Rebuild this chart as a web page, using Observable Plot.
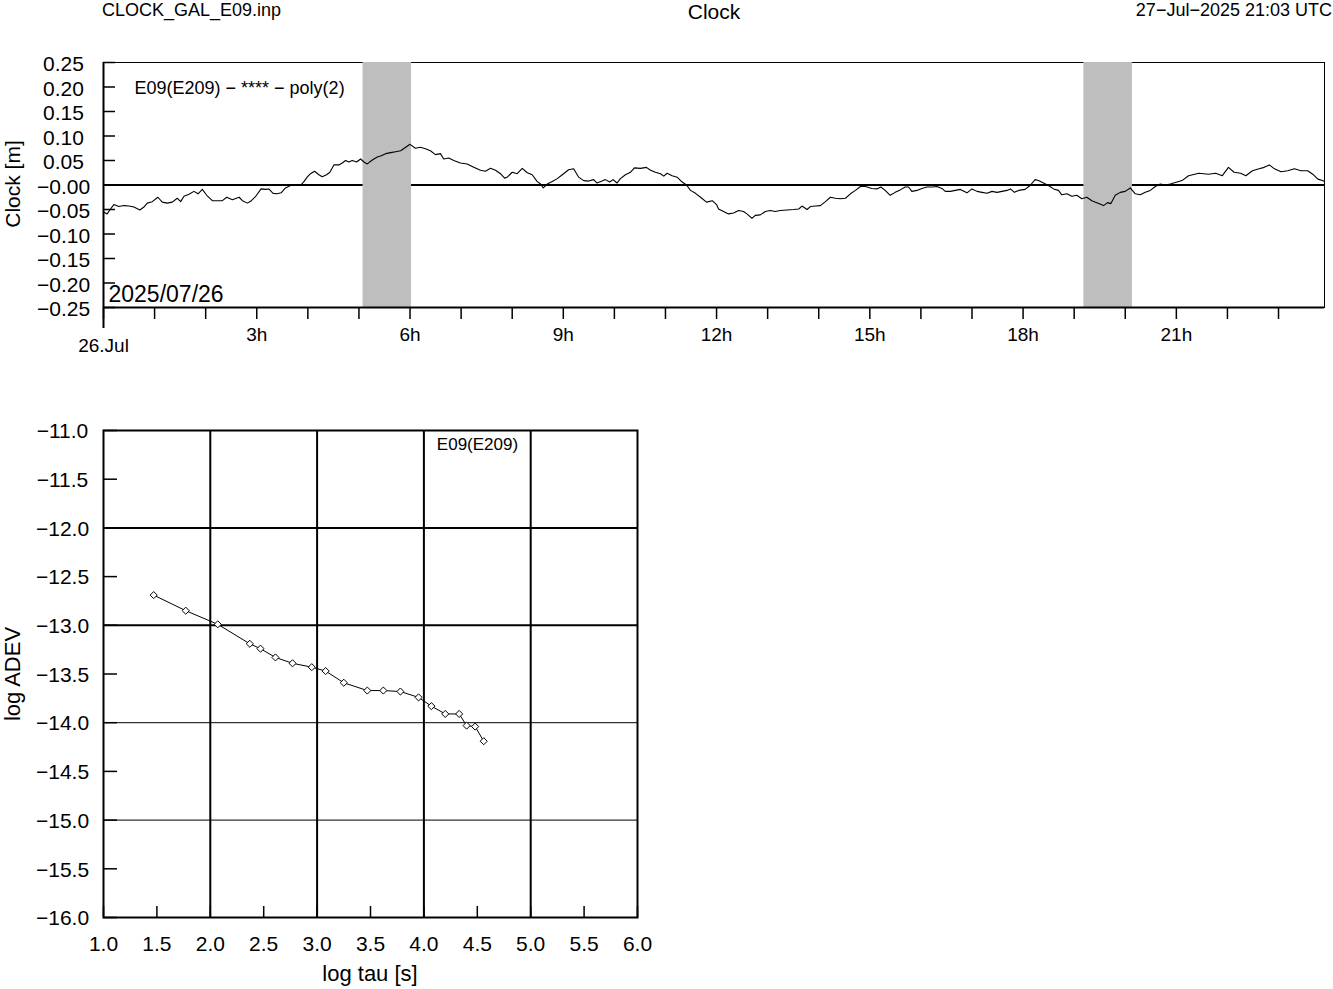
<!DOCTYPE html>
<html>
<head>
<meta charset="utf-8">
<script src="https://cdn.jsdelivr.net/npm/d3@7"></script>
<script src="https://cdn.jsdelivr.net/npm/@observablehq/plot@0.6"></script>
<style>
  body { margin: 0; background: #fff; font-family: "Liberation Sans", Arial, sans-serif; }
  #page { position: relative; width: 1333px; height: 989px; overflow: hidden; background: #fff; }
  .t { position: absolute; white-space: nowrap; color: #000; line-height: 1.15; }
  .rot { transform: translate(-50%, -50%) rotate(-90deg); }
  svg { position: absolute; left: 0; }
</style>
</head>
<body>
<div id="page"></div>
<script>
// ---------- texts ----------
const headerLeft = "CLOCK_GAL_E09.inp";
const headerTitle = "Clock";
const headerRight = "27\u2212Jul\u22122025 21:03 UTC";
const clockLegend = "E09(E209) \u2212 **** \u2212 poly(2)";
const clockDateLabel = "2025/07/26";
const clockYLabel = "Clock [m]";
const adevLegend = "E09(E209)";
const adevXLabel = "log tau [s]";
const adevYLabel = "log ADEV";

// ---------- clock series (hours since 2025-07-26 00:00 UTC, metres) ----------
const clockHours = [
  0.000,0.072,0.137,0.203,0.301,0.399,0.497,0.595,0.712,0.791,0.856,0.954,1.065,1.150,1.248,1.346,1.444,1.510,1.575,1.673,1.771,1.850,1.935,2.020,2.131,2.229,2.327,2.412,2.523,2.654,2.719,2.817,2.895,2.980,
  3.085,3.170,3.235,3.320,3.399,3.477,3.562,3.660,3.758,3.856,3.922,3.987,4.052,4.131,4.216,4.281,4.366,4.431,4.510,4.608,4.673,4.739,4.804,4.869,4.954,5.033,5.098,5.163,5.261,5.359,5.425,5.523,5.621,5.719,5.817,5.915,6.000,
  6.105,6.203,6.301,6.399,6.497,6.595,6.660,6.758,6.856,6.987,7.118,7.248,7.379,7.477,7.575,7.673,7.771,7.850,7.902,8.000,8.098,8.196,8.294,8.392,8.490,8.556,8.608,8.686,8.784,8.882,8.980,
  9.105,9.203,9.301,9.399,9.497,9.595,9.660,9.758,9.824,9.908,9.974,10.052,10.118,10.216,10.314,10.392,10.510,10.627,10.706,10.804,10.902,10.967,11.033,11.131,11.229,11.327,11.412,11.490,11.588,11.686,11.804,11.915,12.000,
  12.039,12.137,12.235,12.333,12.431,12.529,12.595,12.693,12.758,12.856,12.954,13.052,13.150,13.248,13.379,13.510,13.608,13.673,13.771,13.837,13.935,14.033,14.131,14.229,14.327,14.425,14.523,14.621,14.719,14.817,14.915,
  15.039,15.137,15.216,15.301,15.399,15.497,15.595,15.693,15.758,15.824,15.922,16.020,16.118,16.216,16.314,16.412,16.477,16.575,16.673,16.771,16.902,17.000,17.098,17.196,17.294,17.392,17.490,17.588,17.686,17.752,17.830,17.915,
  18.039,18.137,18.235,18.301,18.399,18.497,18.595,18.693,18.758,18.856,18.954,19.052,19.150,19.248,19.346,19.444,19.575,19.654,19.719,19.804,19.902,20.000,20.098,20.196,20.294,20.392,20.490,20.588,20.686,20.784,20.882,20.980,
  21.11,21.24,21.44,21.63,21.77,21.90,22.02,22.13,22.26,22.36,22.49,22.62,22.72,22.82,22.92,23.05,23.18,23.31,23.44,23.57,23.67,23.77,23.86,23.90
];
const clockValues = [
  -0.055,-0.059,-0.049,-0.040,-0.044,-0.042,-0.043,-0.045,-0.051,-0.045,-0.037,-0.034,-0.025,-0.035,-0.037,-0.035,-0.027,-0.034,-0.023,-0.019,-0.013,-0.018,-0.009,-0.021,-0.032,-0.032,-0.032,-0.025,-0.030,-0.025,-0.032,-0.037,-0.032,-0.023,
  -0.008,-0.009,-0.008,-0.017,-0.018,-0.016,-0.006,-0.001,0.000,-0.001,0.007,0.016,0.023,0.028,0.021,0.017,0.021,0.026,0.041,0.041,0.045,0.050,0.047,0.050,0.047,0.053,0.047,0.043,0.051,0.057,0.059,0.064,0.066,0.068,0.070,0.077,0.083,
  0.075,0.077,0.074,0.070,0.062,0.064,0.053,0.055,0.050,0.045,0.043,0.036,0.030,0.028,0.034,0.030,0.023,0.014,0.016,0.026,0.023,0.034,0.025,0.021,0.007,0.002,-0.006,0.002,0.007,0.013,0.021,
  0.031,0.033,0.016,0.009,0.008,0.011,0.004,0.008,0.011,0.006,0.011,0.004,0.013,0.021,0.026,0.035,0.034,0.036,0.030,0.026,0.023,0.018,0.024,0.019,0.016,0.006,0.000,-0.011,-0.017,-0.025,-0.035,-0.032,-0.040,
  -0.049,-0.054,-0.059,-0.057,-0.052,-0.054,-0.059,-0.068,-0.062,-0.061,-0.054,-0.052,-0.054,-0.052,-0.051,-0.050,-0.049,-0.043,-0.050,-0.044,-0.043,-0.042,-0.034,-0.025,-0.027,-0.028,-0.027,-0.018,-0.011,-0.003,-0.003,
  -0.007,-0.008,-0.004,-0.011,-0.021,-0.015,-0.010,-0.004,-0.004,-0.013,-0.011,-0.007,-0.004,-0.004,-0.003,-0.007,-0.013,-0.013,-0.011,-0.009,-0.016,-0.008,-0.013,-0.015,-0.017,-0.013,-0.015,-0.013,-0.011,-0.008,-0.015,-0.011,
  -0.009,-0.001,0.011,0.009,0.004,-0.001,-0.008,-0.011,-0.020,-0.018,-0.023,-0.021,-0.028,-0.025,-0.032,-0.036,-0.042,-0.036,-0.038,-0.021,-0.015,-0.013,-0.006,-0.018,-0.020,-0.015,-0.011,-0.003,0.002,0.000,0.002,0.005,
  0.009,0.019,0.024,0.022,0.024,0.019,0.036,0.026,0.024,0.019,0.029,0.033,0.036,0.041,0.033,0.027,0.029,0.033,0.029,0.029,0.022,0.012,0.009,0.007
];
// grey shaded intervals (hours)
const bandStarts = [5.08, 19.19];
const bandEnds = [6.03, 20.14];

// clock axis ticks
const clockXDomain = [0, 23.9];
const clockYDomain = [-0.25, 0.25];
const hourTicks = [0,1,2,3,4,5,6,7,8,9,10,11,12,13,14,15,16,17,18,19,20,21,22,23];
const hourLabelValues = [3, 6, 9, 12, 15, 18, 21];
const hourLabels = ["3h", "6h", "9h", "12h", "15h", "18h", "21h"];
const dayLabel = "26.Jul";
const clockYTicks = [-0.25,-0.2,-0.15,-0.1,-0.05,0,0.05,0.1,0.15,0.2,0.25];
const clockYTickLabels = ["\u22120.25","\u22120.20","\u22120.15","\u22120.10","\u22120.05","\u22120.00","0.05","0.10","0.15","0.20","0.25"];

// ---------- ADEV series ----------
const adevLogTau = [1.47, 1.77, 2.07, 2.37, 2.47, 2.61, 2.77, 2.95, 3.08, 3.25, 3.47, 3.62, 3.78, 3.95, 4.07, 4.20, 4.33, 4.40, 4.48, 4.56];
const adevLogValue = [-12.69, -12.85, -12.99, -13.19, -13.24, -13.33, -13.39, -13.43, -13.47, -13.59, -13.67, -13.67, -13.68, -13.74, -13.83, -13.91, -13.91, -14.03, -14.04, -14.19];
const adevXDomain = [1, 6];
const adevYDomain = [-16, -11];
const adevXTicks = [1, 1.5, 2, 2.5, 3, 3.5, 4, 4.5, 5, 5.5, 6];
const adevYTicks = [-11, -11.5, -12, -12.5, -13, -13.5, -14, -14.5, -15, -15.5, -16];
const adevGridX = [2, 3, 4, 5];
const adevGridYMajor = [-12, -13];
const adevGridYMinor = [-14, -15];

// ---------- build tables ----------
const clockData = clockHours.map((h, i) => ({h, v: clockValues[i]}));
const bands = bandStarts.map((s, i) => ({start: s, end: bandEnds[i]}));
const hourLabelMap = new Map(hourLabelValues.map((v, i) => [v, hourLabels[i]]));
const clockYLabelMap = new Map(clockYTicks.map((v, i) => [v, clockYTickLabels[i]]));
const adevData = adevLogTau.map((x, i) => ({x, y: adevLogValue[i]}));

const FONT = "Liberation Sans, Arial, sans-serif";
const page = document.getElementById("page");

function addText(txt, css, cls) {
  const d = document.createElement("div");
  d.className = "t" + (cls ? " " + cls : "");
  d.textContent = txt;
  Object.assign(d.style, css);
  page.appendChild(d);
  return d;
}

// ---------- top plot ----------
const topPlot = Plot.plot({
  width: 1333, height: 360,
  marginLeft: 103, marginRight: 9, marginTop: 62, marginBottom: 53,
  style: {fontFamily: FONT, fontSize: "19px", color: "#000", background: "transparent", overflow: "visible"},
  x: {domain: clockXDomain, label: null},
  y: {domain: clockYDomain, label: null},
  marks: [
    Plot.frame({stroke: "#000", strokeWidth: 1}),
    Plot.ruleY([0], {stroke: "#000", strokeWidth: 2}),
    Plot.rect(bands, {x1: "start", x2: "end", fill: "#bebebe"}),
    Plot.ruleY([clockYDomain[0]], {stroke: "#000", strokeWidth: 2}),
    Plot.ruleX([clockXDomain[0]], {stroke: "#000", strokeWidth: 2}),
    Plot.line(clockData, {x: "h", y: "v", stroke: "#000", strokeWidth: 1.1}),
    Plot.axisY(clockYTicks, {tickSize: -12, strokeWidth: 1.5, tickFormat: () => "", label: null}),
    Plot.axisY(clockYTicks, {tickSize: 0, tickPadding: 40, textAnchor: "middle", fontSize: 21, dy: 2,
      tickFormat: d => clockYLabelMap.get(d), label: null}),
    Plot.axisX(hourTicks, {tickSize: 12, strokeWidth: 1.5, tickFormat: () => "", label: null}),
    Plot.axisX([clockXDomain[0]], {tickSize: 21, strokeWidth: 2, tickFormat: () => "", label: null}),
    Plot.axisX(hourLabelValues, {tickSize: 0, tickPadding: 20, fontSize: 19, tickFormat: d => hourLabelMap.get(d), label: null}),
    Plot.axisX([clockXDomain[0]], {tickSize: 0, tickPadding: 31, fontSize: 19, tickFormat: () => dayLabel, label: null}),
    Plot.text([clockLegend], {text: d => d, frameAnchor: "top-left", textAnchor: "start", lineAnchor: "middle", dx: 31, dy: 26, fontSize: 18, fill: "#000"}),
    Plot.text([clockDateLabel], {text: d => d, frameAnchor: "bottom-left", textAnchor: "start", lineAnchor: "bottom", dx: 5, dy: -6, fontSize: 23, fill: "#000"})
  ]
});
topPlot.style.top = "0px";
page.appendChild(topPlot);

// ---------- bottom plot ----------
const botPlot = Plot.plot({
  width: 660, height: 609,
  marginLeft: 103, marginRight: 23, marginTop: 50, marginBottom: 72,
  style: {fontFamily: FONT, fontSize: "21px", color: "#000", background: "transparent", overflow: "visible"},
  x: {domain: adevXDomain, label: null},
  y: {domain: adevYDomain, label: null},
  marks: [
    Plot.ruleX(adevGridX, {stroke: "#000", strokeWidth: 2}),
    Plot.ruleY(adevGridYMajor, {stroke: "#000", strokeWidth: 2}),
    Plot.ruleY(adevGridYMinor, {stroke: "#000", strokeWidth: 1}),
    Plot.frame({stroke: "#000", strokeWidth: 2}),
    Plot.axisY(adevYTicks, {tickSize: -14, strokeWidth: 1.5, tickFormat: () => "", label: null}),
    Plot.axisY(adevYTicks, {tickSize: 0, tickPadding: 41, textAnchor: "middle", fontSize: 21, dy: 1,
      tickFormat: d3.format(".1f"), label: null}),
    Plot.axisX(adevXTicks, {tickSize: -11, strokeWidth: 1.5, tickFormat: () => "", label: null}),
    Plot.axisX(adevXTicks, {tickSize: 0, tickPadding: 19, fontSize: 21, tickFormat: d3.format(".1f"), label: null}),
    Plot.line(adevData, {x: "x", y: "y", stroke: "#000", strokeWidth: 1}),
    Plot.dot(adevData, {x: "x", y: "y", symbol: "diamond2", r: 3.2, stroke: "#000", fill: "#fff", strokeWidth: 1}),
    Plot.text([adevLegend], {text: d => d, frameAnchor: "top", lineAnchor: "middle", dx: 107, dy: 14, fontSize: 17, fill: "#000"})
  ]
});
botPlot.style.top = "380px";
page.appendChild(botPlot);

// ---------- header and axis titles ----------
addText(headerLeft, {left: "102px", top: "0px", fontSize: "18px"});
addText(headerTitle, {left: "714px", top: "0px", fontSize: "21px", transform: "translateX(-50%)"});
addText(headerRight, {right: "1px", top: "0px", fontSize: "18px"});
addText(clockYLabel, {left: "13px", top: "184px", fontSize: "21px"}, "rot");
addText(adevYLabel, {left: "13px", top: "674px", fontSize: "22px"}, "rot");
addText(adevXLabel, {left: "370px", top: "974px", fontSize: "22px", transform: "translate(-50%, -50%)"});
</script>
</body>
</html>
